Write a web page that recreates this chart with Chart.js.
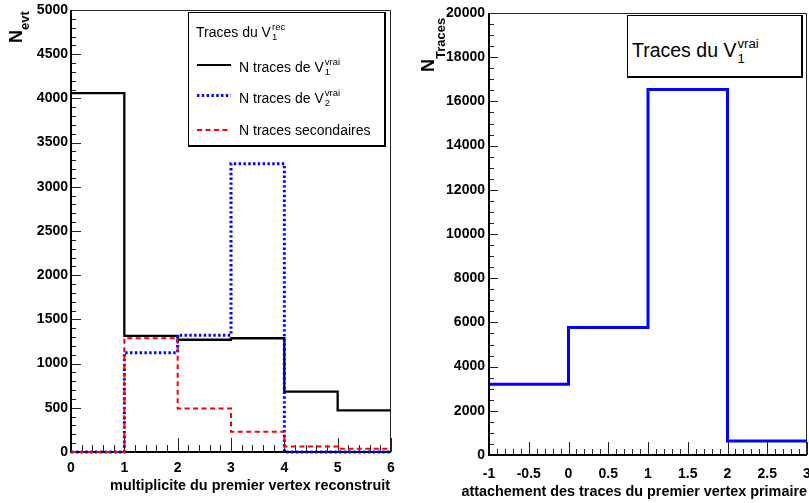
<!DOCTYPE html>
<html>
<head>
<meta charset="utf-8">
<script src="https://cdn.jsdelivr.net/npm/chart.js@4.4.1/dist/chart.umd.min.js"></script>
<style>
  body { margin: 0; background: #fff; width: 809px; height: 503px; position: relative; overflow: hidden;
         font-family: "Liberation Sans", Arial, sans-serif; color: #000; }
  canvas { position: absolute; top: 0; }
  #gauche { left: 0; }
  #droite { left: 400px; }
  .leg { position: absolute; background: #fff; border: 1px solid #000; border-right-width: 2px;
         border-bottom-width: 2px; box-sizing: border-box; }
  .txt { position: absolute; white-space: nowrap; }
  .ib { display: inline-flex; flex-direction: column; font-size: 0.68em; line-height: 1.1;
        vertical-align: 0.7em; margin-left: 1px; }
  .ytitre { position: absolute; transform-origin: 0 0; transform: rotate(-90deg); font-weight: bold;
            white-space: nowrap; font-size: 18px; line-height: 18px; }
  .ytitre span { font-size: 13px; }
  .xtitre { position: absolute; font-weight: bold; font-size: 14.4px; line-height: 17px; white-space: nowrap; }
  svg { position: absolute; overflow: visible; }
</style>
</head>
<body>
<canvas id="gauche" width="400" height="503"></canvas>
<canvas id="droite" width="409" height="503"></canvas>

<div class="ytitre" style="left:7px; top:43px;">N<span style="vertical-align:-7px;">evt</span></div>
<div class="ytitre" style="left:419px; top:72px;">N<span style="vertical-align:-11px;">Traces</span></div>
<div class="xtitre" style="right:419px; top:477px;">multiplicite du premier vertex reconstruit</div>
<div class="xtitre" style="right:2px; top:483px;">attachement des traces du premier vertex primaire</div>

<div class="leg" style="left:188px; top:12px; width:198px; height:135px;">
  <div class="txt" style="left:7px; top:9px; font-size:14px; line-height:16px;">Traces du V<span class="ib"><span>rec</span><span>1</span></span></div>
  <svg style="left:8px; top:51px;" width="34" height="2"><line x1="0" y1="1" x2="34" y2="1" stroke="#000" stroke-width="2"/></svg>
  <div class="txt" style="left:50px; top:44px; font-size:14px; line-height:16px;">N traces de V<span class="ib"><span>vrai</span><span>1</span></span></div>
  <svg style="left:8px; top:81px;" width="34" height="3"><line x1="0" y1="1.5" x2="34" y2="1.5" stroke="#0000ff" stroke-width="3" stroke-dasharray="2.4 2.4"/></svg>
  <div class="txt" style="left:50px; top:75px; font-size:14px; line-height:16px;">N traces de V<span class="ib"><span>vrai</span><span>2</span></span></div>
  <svg style="left:8px; top:116px;" width="34" height="2"><line x1="0" y1="1" x2="34" y2="1" stroke="#ff0000" stroke-width="2" stroke-dasharray="5 3.5"/></svg>
  <div class="txt" style="left:50px; top:109px; font-size:14px; line-height:16px;">N traces secondaires</div>
</div>

<div class="leg" style="left:627px; top:15px; width:176px; height:63px;">
  <div class="txt" style="left:4px; top:21px; font-size:19.5px; line-height:21px;">Traces du V<span class="ib"><span>vrai</span><span>1</span></span></div>
</div>

<script>
// multiplicite du premier vertex reconstruit
const bordsG = [0, 1, 2, 3, 4, 5, 6];
const tracesV1 = [4060, 1314, 1270, 1287, 682, 472];
const tracesV2 = [0, 1124, 1322, 3262, 0, 0];
const tracesSec = [0, 1287, 493, 230, 62, 38];

// attachement des traces du premier vertex primaire
const bordsD = [-1, 0, 1, 2, 3];
const tracesAttach = [3205, 5765, 16540, 635];

function marches(bords, vals) {
  const pts = vals.map((v, i) => ({ x: bords[i], y: v }));
  pts.push({ x: bords[bords.length - 1], y: vals[vals.length - 1] });
  return pts;
}

// graduations a l'interieur du cadre, facon ROOT
const graduations = {
  id: 'graduations',
  beforeDatasetsDraw(chart, args, o) {
    const { ctx, chartArea: a, scales: { x, y } } = chart;
    ctx.save();
    ctx.strokeStyle = '#222';
    ctx.lineWidth = 1;
    ctx.beginPath();
    ctx.moveTo(a.left, a.top + 0.5);
    ctx.lineTo(a.right - 0.5, a.top + 0.5);
    ctx.lineTo(a.right - 0.5, a.bottom);
    ctx.stroke();

    ctx.beginPath();
    const nx = Math.round((x.max - x.min) / o.xPas * o.xDiv);
    for (let i = 0; i <= nx; i++) {
      const px = Math.round(x.getPixelForValue(x.min + i * o.xPas / o.xDiv)) + 0.5;
      const l = i % o.xDiv === 0 ? o.xMaj : o.xMin;
      ctx.moveTo(px, a.bottom);
      ctx.lineTo(px, a.bottom - l);
    }
    const ny = Math.round((y.max - y.min) / o.yPas * o.yDiv);
    for (let i = 0; i <= ny; i++) {
      const py = Math.round(y.getPixelForValue(y.min + i * o.yPas / o.yDiv)) + 0.5;
      const l = i % o.yDiv === 0 ? o.yMaj : o.yMin;
      ctx.moveTo(a.left, py);
      ctx.lineTo(a.left + l, py);
    }
    ctx.stroke();

    ctx.strokeStyle = '#000';
    ctx.lineWidth = 2;
    ctx.beginPath();
    ctx.moveTo(a.left, a.top);
    ctx.lineTo(a.left, a.bottom);
    ctx.lineTo(a.right, a.bottom);
    ctx.stroke();
    ctx.restore();
  }
};

const policeTicks = { family: '"Liberation Sans", Arial, sans-serif', size: 14, weight: 'bold' };

function echelles(xmin, xmax, xpas, ymin, ymax, ypas, largeurY, hauteurX, padX, padY) {
  return {
    x: {
      type: 'linear', min: xmin, max: xmax,
      grid: { display: false, drawTicks: false, tickLength: 0 }, border: { display: false },
      ticks: { stepSize: xpas, padding: padX, color: '#000', font: policeTicks,
               maxRotation: 0, autoSkip: false, callback: v => String(v) },
      afterFit(s) { s.height = hauteurX; s.paddingLeft = 0; s.paddingRight = 0; }
    },
    y: {
      min: ymin, max: ymax,
      grid: { display: false, drawTicks: false, tickLength: 0 }, border: { display: false },
      ticks: { stepSize: ypas, padding: padY, color: '#000', font: policeTicks,
               callback: v => String(v) },
      afterFit(s) { s.width = largeurY; s.paddingTop = 0; s.paddingBottom = 0; }
    }
  };
}

const trait = { pointRadius: 0, fill: false, stepped: 'before', clip: false, tension: 0 };

new Chart(document.getElementById('gauche'), {
  type: 'line',
  data: {
    datasets: [
      { ...trait, label: 'N traces de V1 vrai', data: marches(bordsG, tracesV1),
        borderColor: '#000', borderWidth: 2.3, order: 3 },
      { ...trait, label: 'N traces de V2 vrai', data: marches(bordsG, tracesV2),
        borderColor: '#0000ff', borderWidth: 3, borderDash: [2.4, 2.4], order: 2 },
      { ...trait, label: 'N traces secondaires', data: marches(bordsG, tracesSec),
        borderColor: '#ff0000', borderWidth: 2, borderDash: [5, 3.5], order: 1 }
    ]
  },
  options: {
    responsive: false, animation: false, devicePixelRatio: 1,
    layout: { padding: { left: 0, top: 10, right: 9, bottom: 0 } },
    plugins: {
      legend: { display: false }, tooltip: { enabled: false },
      graduations: { xPas: 1, xDiv: 5, xMaj: 14, xMin: 7, yPas: 500, yDiv: 5, yMaj: 10, yMin: 5 }
    },
    scales: echelles(0, 6, 1, 0, 5000, 500, 71, 51, 8, 3)
  },
  plugins: [graduations]
});

new Chart(document.getElementById('droite'), {
  type: 'line',
  data: {
    datasets: [
      { ...trait, label: 'Traces du V1 vrai', data: marches(bordsD, tracesAttach),
        borderColor: '#0000ff', borderWidth: 3 }
    ]
  },
  options: {
    responsive: false, animation: false, devicePixelRatio: 1,
    layout: { padding: { left: 0, top: 13, right: 2, bottom: 0 } },
    plugins: {
      legend: { display: false }, tooltip: { enabled: false },
      graduations: { xPas: 0.5, xDiv: 5, xMaj: 13, xMin: 6, yPas: 2000, yDiv: 4, yMaj: 9, yMin: 5 }
    },
    scales: echelles(-1, 3, 0.5, 0, 20000, 2000, 89, 48, 11, 4)
  },
  plugins: [graduations]
});
</script>
</body>
</html>
